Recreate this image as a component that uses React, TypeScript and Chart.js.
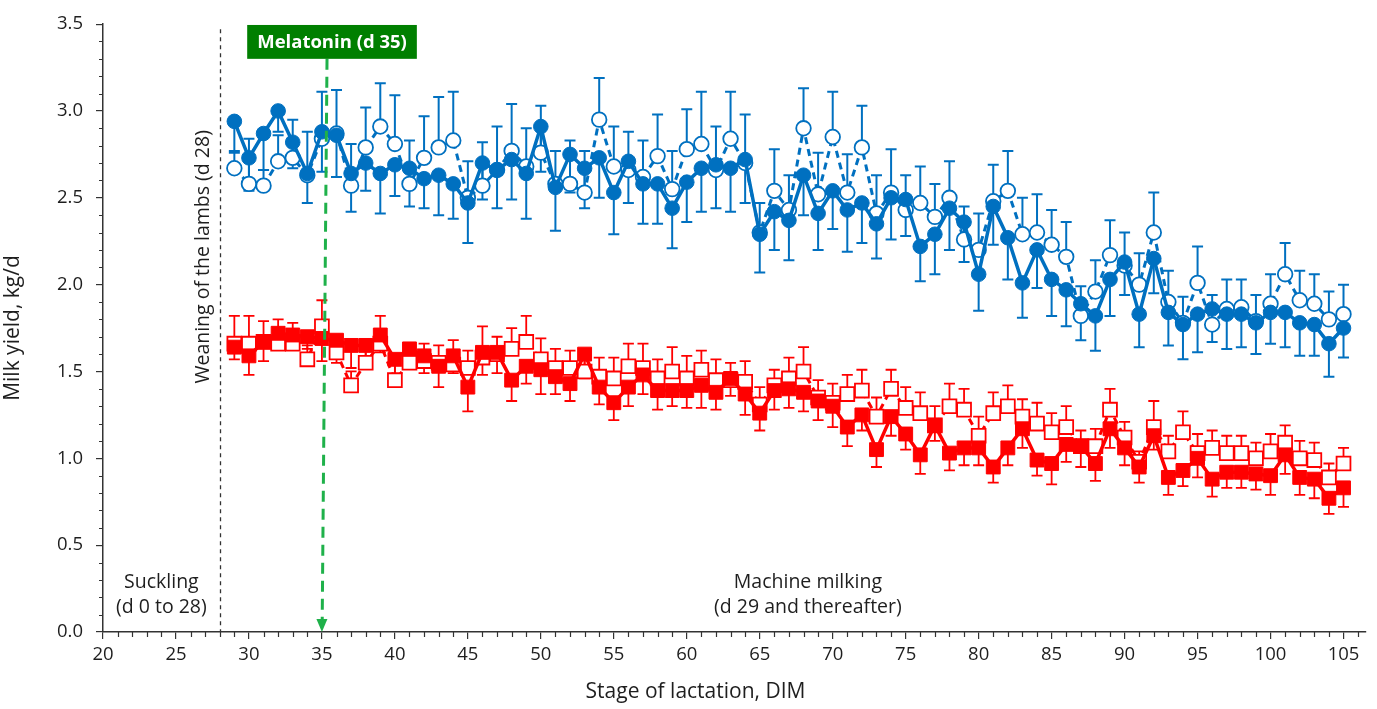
import React, { useEffect, useRef } from 'react';
import { Chart, registerables } from 'chart.js';

Chart.register(...registerables);

const FONT = '"Open Sans", sans-serif';
const BLUE = '#0070C0';
const RED = '#FF0000';
const INK = '#1e1e1e';

const days = [
  29, 30, 31, 32, 33, 34, 35, 36, 37, 38, 39, 40, 41, 42, 43, 44, 45, 46, 47, 48,
  49, 50, 51, 52, 53, 54, 55, 56, 57, 58, 59, 60, 61, 62, 63, 64, 65, 66, 67, 68,
  69, 70, 71, 72, 73, 74, 75, 76, 77, 78, 79, 80, 81, 82, 83, 84, 85, 86, 87, 88,
  89, 90, 91, 92, 93, 94, 95, 96, 97, 98, 99, 100, 101, 102, 103, 104, 105,
];

const xTickLabels = [20, 25, 30, 35, 40, 45, 50, 55, 60, 65, 70, 75, 80, 85, 90, 95, 100, 105];

const blueFilled = [
  2.94, 2.73, 2.87, 3.0, 2.82, 2.64, 2.88, 2.86, 2.64, 2.7,
  2.64, 2.69, 2.67, 2.61, 2.63, 2.58, 2.47, 2.7, 2.66, 2.72,
  2.64, 2.91, 2.56, 2.75, 2.67, 2.73, 2.53, 2.71, 2.58, 2.58,
  2.44, 2.59, 2.67, 2.69, 2.67, 2.72, 2.29, 2.42, 2.37, 2.63,
  2.41, 2.54, 2.43, 2.47, 2.35, 2.5, 2.49, 2.22, 2.29, 2.44,
  2.36, 2.06, 2.45, 2.27, 2.01, 2.2, 2.03, 1.97, 1.89, 1.82,
  2.03, 2.13, 1.83, 2.15, 1.84, 1.77, 1.83, 1.86, 1.83, 1.83,
  1.78, 1.84, 1.84, 1.78, 1.77, 1.66, 1.75,
];
const blueFilledErr = [
  0.18, 0.19, 0.21, 0.12, 0.15, 0.17, 0.23, 0.24, 0.22, 0.16,
  0.23, 0.18, 0.22, 0.17, 0.23, 0.2, 0.23, 0.21, 0.22, 0.23,
  0.26, 0.26, 0.25, 0.22, 0.23, 0.23, 0.24, 0.24, 0.23, 0.23,
  0.23, 0.23, 0.25, 0.25, 0.25, 0.25, 0.22, 0.22, 0.23, 0.23,
  0.21, 0.22, 0.24, 0.23, 0.2, 0.24, 0.21, 0.2, 0.23, 0.24,
  0.23, 0.21, 0.22, 0.24, 0.2, 0.22, 0.21, 0.21, 0.21, 0.2,
  0.21, 0.19, 0.19, 0.2, 0.19, 0.2, 0.22, 0.19, 0.2, 0.19,
  0.18, 0.18, 0.2, 0.19, 0.18, 0.19, 0.17,
];
const blueOpen = [
  2.67, 2.58, 2.57, 2.71, 2.73, 2.63, 2.84, 2.87, 2.57, 2.79,
  2.91, 2.81, 2.58, 2.73, 2.79, 2.83, 2.5, 2.57, 2.66, 2.77,
  2.68, 2.76, 2.58, 2.58, 2.53, 2.95, 2.68, 2.66, 2.62, 2.74,
  2.55, 2.78, 2.81, 2.66, 2.84, 2.7, 2.3, 2.54, 2.43, 2.9,
  2.52, 2.85, 2.53, 2.79, 2.41, 2.53, 2.43, 2.47, 2.39, 2.5,
  2.26, 2.2, 2.48, 2.54, 2.29, 2.3, 2.23, 2.16, 1.82, 1.96,
  2.17, 2.11, 2.0, 2.3, 1.9, 1.78, 2.01, 1.77, 1.86, 1.87,
  1.79, 1.89, 2.06, 1.91, 1.89, 1.8, 1.83,
];
const blueOpenErr = [
  0.1, 0.26, 0.09, 0.15, 0.22, 0.25, 0.27, 0.25, 0.24, 0.23,
  0.25, 0.28, 0.25, 0.24, 0.29, 0.28, 0.21, 0.25, 0.25, 0.27,
  0.22, 0.27, 0.19, 0.25, 0.24, 0.24, 0.23, 0.22, 0.21, 0.24,
  0.22, 0.23, 0.3, 0.25, 0.27, 0.28, 0.17, 0.24, 0.2, 0.23,
  0.24, 0.26, 0.22, 0.24, 0.22, 0.25, 0.2, 0.21, 0.19, 0.21,
  0.19, 0.21, 0.21, 0.23, 0.21, 0.22, 0.2, 0.2, 0.17, 0.18,
  0.2, 0.19, 0.18, 0.23, 0.18, 0.15, 0.21, 0.17, 0.17, 0.16,
  0.15, 0.17, 0.18, 0.17, 0.17, 0.16, 0.17,
];
const redFilled = [
  1.64, 1.59, 1.67, 1.72, 1.71, 1.7, 1.69, 1.68, 1.65, 1.65,
  1.71, 1.57, 1.63, 1.59, 1.53, 1.59, 1.41, 1.61, 1.61, 1.45,
  1.53, 1.51, 1.47, 1.43, 1.6, 1.41, 1.32, 1.41, 1.48, 1.39,
  1.39, 1.39, 1.42, 1.38, 1.46, 1.37, 1.26, 1.39, 1.4, 1.38,
  1.33, 1.3, 1.18, 1.25, 1.05, 1.24, 1.14, 1.02, 1.19, 1.03,
  1.06, 1.06, 0.95, 1.06, 1.17, 0.99, 0.97, 1.08, 1.07, 0.97,
  1.17, 1.06, 0.95, 1.13, 0.89, 0.93, 1.0, 0.88, 0.92, 0.92,
  0.91, 0.9, 1.02, 0.89, 0.88, 0.77, 0.83,
];
const redFilledErr = [
  0.07, 0.11, 0.11, 0.08, 0.07, 0.07, 0.13, 0.13, 0.13, 0.1,
  0.1, 0.1, 0.1, 0.1, 0.12, 0.1, 0.14, 0.13, 0.12, 0.12,
  0.1, 0.14, 0.1, 0.1, 0.14, 0.1, 0.1, 0.11, 0.11, 0.11,
  0.09, 0.1, 0.13, 0.1, 0.1, 0.12, 0.1, 0.11, 0.11, 0.11,
  0.11, 0.12, 0.11, 0.09, 0.1, 0.11, 0.09, 0.11, 0.09, 0.1,
  0.1, 0.1, 0.09, 0.1, 0.11, 0.09, 0.12, 0.1, 0.12, 0.1,
  0.11, 0.1, 0.09, 0.08, 0.1, 0.09, 0.11, 0.1, 0.09, 0.09,
  0.09, 0.11, 0.11, 0.1, 0.11, 0.09, 0.11,
];
const redOpen = [
  1.66, 1.66, 1.67, 1.66, 1.66, 1.57, 1.76, 1.61, 1.42, 1.55,
  1.66, 1.45, 1.55, 1.56, 1.55, 1.54, 1.52, 1.58, 1.6, 1.63,
  1.67, 1.57, 1.52, 1.52, 1.5, 1.47, 1.46, 1.53, 1.52, 1.46,
  1.5, 1.46, 1.51, 1.45, 1.45, 1.44, 1.31, 1.42, 1.46, 1.5,
  1.35, 1.32, 1.37, 1.39, 1.24, 1.4, 1.29, 1.26, 1.19, 1.3,
  1.28, 1.13, 1.26, 1.3, 1.24, 1.2, 1.15, 1.18, 1.07, 1.07,
  1.28, 1.12, 0.98, 1.18, 1.04, 1.15, 1.03, 1.06, 1.03, 1.03,
  1.0, 1.04, 1.09, 1.0, 0.99, 0.89, 0.97,
];
const redOpenErr = [
  0.16, 0.16, 0.12, 0.14, 0.12, 0.08, 0.15, 0.1, 0.08, 0.09,
  0.16, 0.1, 0.11, 0.1, 0.1, 0.14, 0.1, 0.18, 0.1, 0.12,
  0.15, 0.12, 0.11, 0.1, 0.1, 0.11, 0.12, 0.13, 0.14, 0.11,
  0.14, 0.13, 0.11, 0.12, 0.1, 0.12, 0.1, 0.09, 0.12, 0.14,
  0.1, 0.11, 0.11, 0.12, 0.11, 0.11, 0.12, 0.12, 0.11, 0.13,
  0.12, 0.11, 0.12, 0.12, 0.1, 0.12, 0.11, 0.12, 0.09, 0.1,
  0.12, 0.09, 0.06, 0.15, 0.09, 0.12, 0.11, 0.1, 0.1, 0.1,
  0.09, 0.1, 0.1, 0.1, 0.1, 0.08, 0.09,
];

const xMin = 20;
const xMax = 106.5;
const xMajorStep = 5;
const xMinorStep = 1;
const yMin = 0;
const yMax = 3.5;
const yMajorStep = 0.5;
const yMinorStep = 0.1;
const weaningDay = 28;
const melatoninDay = 35;
const melatoninLabel = 'Melatonin (d 35)';
const weaningLabel = 'Weaning of the lambs (d 28)';
const sucklingLines = ['Suckling', '(d 0 to 28)'];
const machineLines = ['Machine milking', '(d 29 and thereafter)'];
const xTitle = 'Stage of lactation, DIM';
const yTitle = 'Milk yield, kg/d';

const toPoints = (vals: number[]) => days.map((d, i) => ({ x: d, y: vals[i] }));

const errorBarPlugin = {
  id: 'errorBars',
  beforeDatasetsDraw(chart: any) {
    const ctx = chart.ctx;
    const ys = chart.scales.y;
    chart.data.datasets.forEach((ds: any, di: number) => {
      const meta = chart.getDatasetMeta(di);
      if (!ds.errors) return;
      ctx.save();
      ctx.strokeStyle = ds.errorColor;
      ctx.lineWidth = ds.errorWidth;
      ctx.setLineDash([]);
      meta.data.forEach((pt: any, i: number) => {
        const v = ds.data[i].y;
        const end = v + ds.errorDir * ds.errors[i];
        const y0 = ys.getPixelForValue(v);
        const y1 = ys.getPixelForValue(end);
        const x = pt.x;
        ctx.beginPath();
        ctx.moveTo(x, y0);
        ctx.lineTo(x, y1);
        ctx.moveTo(x - 5.5, y1);
        ctx.lineTo(x + 5.5, y1);
        ctx.stroke();
      });
      ctx.restore();
    });
  },
};

const minorTickPlugin = {
  id: 'minorTicks',
  afterDraw(chart: any) {
    const ctx = chart.ctx;
    const xs = chart.scales.x;
    const ys = chart.scales.y;
    const area = chart.chartArea;
    ctx.save();
    ctx.strokeStyle = '#333333';
    ctx.lineWidth = 1.2;
    ctx.beginPath();
    const nx = Math.round((Math.floor(xMax) - xMin) / xMinorStep);
    for (let k = 0; k <= nx; k++) {
      const v = xMin + k * xMinorStep;
      if (Math.abs(v / xMajorStep - Math.round(v / xMajorStep)) < 1e-6) continue;
      const px = Math.round(xs.getPixelForValue(v)) + 0.5;
      ctx.moveTo(px, area.bottom);
      ctx.lineTo(px, area.bottom + 5);
    }
    const ny = Math.round((yMax - yMin) / yMinorStep);
    for (let k = 0; k <= ny; k++) {
      if (k % Math.round(yMajorStep / yMinorStep) === 0) continue;
      const v = yMin + k * yMinorStep;
      const py = Math.round(ys.getPixelForValue(v)) + 0.5;
      ctx.moveTo(area.left, py);
      ctx.lineTo(area.left - 4, py);
    }
    ctx.stroke();
    ctx.restore();
  },
};

const annotationPlugin = {
  id: 'annotations',
  afterDatasetsDraw(chart: any) {
    const ctx = chart.ctx;
    const xs = chart.scales.x;
    const ys = chart.scales.y;
    ctx.save();

    // weaning dashed line
    const wx = Math.round(xs.getPixelForValue(weaningDay)) + 0.5;
    ctx.strokeStyle = '#333333';
    ctx.lineWidth = 1.3;
    ctx.setLineDash([4, 4]);
    ctx.beginPath();
    ctx.moveTo(wx, ys.getPixelForValue(3.47));
    ctx.lineTo(wx, ys.getPixelForValue(0));
    ctx.stroke();

    // melatonin arrow
    const mxTop = xs.getPixelForValue(melatoninDay + 0.35);
    const mxBot = xs.getPixelForValue(melatoninDay);
    const myTop = ys.getPixelForValue(3.3);
    const myBot = ys.getPixelForValue(0);
    ctx.strokeStyle = '#1fb14a';
    ctx.fillStyle = '#1fb14a';
    ctx.lineWidth = 3;
    ctx.setLineDash([11, 7]);
    ctx.beginPath();
    ctx.moveTo(mxTop, myTop);
    ctx.lineTo(mxBot + 0.3, myBot - 12);
    ctx.stroke();
    ctx.setLineDash([]);
    ctx.beginPath();
    ctx.moveTo(mxBot - 5.5, myBot - 13);
    ctx.lineTo(mxBot + 5.5, myBot - 13);
    ctx.lineTo(mxBot, myBot);
    ctx.closePath();
    ctx.fill();

    // melatonin box
    ctx.font = `bold 18.5px ${FONT}`;
    const tw = ctx.measureText(melatoninLabel).width;
    const bx = mxTop + 5;
    const bTop = ys.getPixelForValue(3.495);
    const bBot = ys.getPixelForValue(3.3);
    ctx.fillStyle = '#007f00';
    ctx.fillRect(bx - tw / 2 - 10, bTop, tw + 20, bBot - bTop);
    ctx.fillStyle = '#ffffff';
    ctx.textAlign = 'center';
    ctx.textBaseline = 'middle';
    ctx.fillText(melatoninLabel, bx, (bTop + bBot) / 2 + 1);

    // region labels
    ctx.fillStyle = INK;
    ctx.font = `19.5px ${FONT}`;
    const sx = xs.getPixelForValue(24);
    ctx.fillText(sucklingLines[0], sx, ys.getPixelForValue(0.285));
    ctx.fillText(sucklingLines[1], sx, ys.getPixelForValue(0.14));
    const mx = xs.getPixelForValue(68.3);
    ctx.fillText(machineLines[0], mx, ys.getPixelForValue(0.285));
    ctx.fillText(machineLines[1], mx, ys.getPixelForValue(0.14));

    // x axis title
    ctx.font = `21px ${FONT}`;
    ctx.fillText(xTitle, xs.getPixelForValue(60.6), chart.height - 17);

    // weaning rotated label
    ctx.font = `19.5px ${FONT}`;
    ctx.translate(xs.getPixelForValue(26.85), ys.getPixelForValue(2.16));
    ctx.rotate(-Math.PI / 2);
    ctx.fillText(weaningLabel, 0, 0);

    ctx.restore();
  },
};

export default function App() {
  const ref = useRef<HTMLCanvasElement | null>(null);

  useEffect(() => {
    if (!ref.current) return;
    const chart = new Chart(ref.current, {
      type: 'line',
      data: {
        datasets: [
          {
            label: 'Blue filled',
            data: toPoints(blueFilled),
            borderColor: BLUE,
            backgroundColor: BLUE,
            borderWidth: 3.5,
            pointStyle: 'circle',
            pointRadius: 7.3,
            pointBackgroundColor: BLUE,
            pointBorderColor: BLUE,
            pointBorderWidth: 1,
            errors: blueFilledErr,
            errorDir: -1,
            errorColor: BLUE,
            errorWidth: 2,
          } as any,
          {
            label: 'Red filled',
            data: toPoints(redFilled),
            borderColor: RED,
            backgroundColor: RED,
            borderWidth: 3.5,
            pointStyle: 'rect',
            pointRadius: 9.8,
            pointBackgroundColor: RED,
            pointBorderColor: RED,
            pointBorderWidth: 1,
            errors: redFilledErr,
            errorDir: -1,
            errorColor: RED,
            errorWidth: 1.8,
          } as any,
          {
            label: 'Blue open',
            data: toPoints(blueOpen),
            borderColor: BLUE,
            backgroundColor: '#ffffff',
            borderWidth: 3,
            borderDash: [7, 5],
            pointStyle: 'circle',
            pointRadius: 7.3,
            pointBackgroundColor: '#ffffff',
            pointBorderColor: BLUE,
            pointBorderWidth: 1.8,
            errors: blueOpenErr,
            errorDir: 1,
            errorColor: BLUE,
            errorWidth: 2,
          } as any,
          {
            label: 'Red open',
            data: toPoints(redOpen),
            borderColor: RED,
            backgroundColor: '#ffffff',
            borderWidth: 3,
            borderDash: [7, 5],
            pointStyle: 'rect',
            pointRadius: 9.8,
            pointBackgroundColor: '#ffffff',
            pointBorderColor: RED,
            pointBorderWidth: 1.8,
            errors: redOpenErr,
            errorDir: 1,
            errorColor: RED,
            errorWidth: 1.8,
          } as any,
        ],
      },
      options: {
        animation: false,
        responsive: false,
        devicePixelRatio: 1,
        layout: { padding: { top: 23, right: 0, left: 0, bottom: 0 } },
        plugins: {
          legend: { display: false },
          tooltip: { enabled: false },
        },
        elements: { line: { tension: 0 } },
        scales: {
          x: {
            type: 'linear',
            min: xMin,
            max: xMax,
            afterFit: (s: any) => {
              s.height = 77;
            },
            afterBuildTicks: (s: any) => {
              s.ticks = xTickLabels.map((v) => ({ value: v }));
            },
            ticks: {
              stepSize: xMajorStep,
              autoSkip: false,
              maxRotation: 0,
              padding: 5,
              color: INK,
              font: { family: FONT, size: 18.5 },
            },
            grid: {
              drawOnChartArea: false,
              drawTicks: true,
              tickLength: 7,
              tickColor: '#333333',
              lineWidth: 1.2,
            },
            border: { color: '#333333', width: 1.5 },
          },
          y: {
            type: 'linear',
            min: yMin,
            max: yMax,
            afterFit: (s: any) => {
              s.width = 103;
            },
            ticks: {
              stepSize: yMajorStep,
              autoSkip: false,
              padding: 13,
              color: INK,
              font: { family: FONT, size: 18.5 },
              callback: (v: any) => Number(v).toFixed(1),
            },
            grid: {
              drawOnChartArea: false,
              drawTicks: true,
              tickLength: 7,
              tickColor: '#333333',
              lineWidth: 1.2,
            },
            border: { color: '#333333', width: 1.5 },
            title: {
              display: true,
              text: yTitle,
              color: INK,
              font: { family: FONT, size: 21 },
              padding: { top: 0, bottom: 10 },
            },
          },
        },
      } as any,
      plugins: [errorBarPlugin, minorTickPlugin, annotationPlugin],
    });
    return () => chart.destroy();
  }, []);

  return (
    <div style={{ position: 'fixed', left: 0, top: 0, width: 1377, height: 709, background: '#ffffff' }}>
      <canvas ref={ref} width={1377} height={709} style={{ display: 'block' }} />
    </div>
  );
}
